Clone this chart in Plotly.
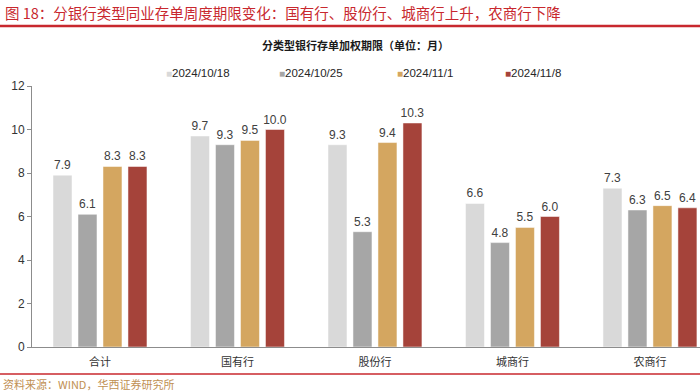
import plotly.graph_objects as go

categories = ["合计", "国有行", "股份行", "城商行", "农商行"]
series_names = ["2024/10/18", "2024/10/25", "2024/11/1", "2024/11/8"]
s_1018 = [7.9, 9.7, 9.3, 6.6, 7.3]
s_1025 = [6.1, 9.3, 5.3, 4.8, 6.3]
s_1101 = [8.3, 9.5, 9.4, 5.5, 6.5]
s_1108 = [8.3, 10.0, 10.3, 6.0, 6.4]
y_ticks = [0, 2, 4, 6, 8, 10, 12]

series_values = [s_1018, s_1025, s_1101, s_1108]
colors = ["#D9D9D9", "#A6A6A6", "#D4A660", "#A5433A"]

CJK = "Noto Sans CJK SC"
LAT = "Liberation Sans"

W, H = 700, 392
L, R, T, B = 32, 0, 86, 45
pw = W - L - R
ph = H - T - B


def px(x):
    return (x - L) / pw


def py(y):
    return (H - B - y) / ph


fig = go.Figure()
for name, vals, c in zip(series_names, series_values, colors):
    fig.add_trace(go.Bar(
        x=categories, y=vals, name=name,
        marker=dict(color=c, line=dict(color="white", width=0.5)),
        text=[f"{v:.1f}" for v in vals], textposition="outside",
        textfont=dict(family=LAT, size=12, color="#404040"),
        constraintext="none",
        cliponaxis=False, showlegend=False, hoverinfo="skip",
    ))

annotations = [
    dict(text="图 18：分银行类型同业存单周度期限变化：国有行、股份行、城商行上升，农商行下降",
         x=px(3), y=py(12), xref="paper", yref="paper", xanchor="left", yanchor="middle",
         showarrow=False, font=dict(family=CJK, size=14.5, color="#C8282E")),
    dict(text="<b>分类型银行存单加权期限（单位：月）</b>",
         x=px(355), y=py(45), xref="paper", yref="paper", xanchor="center", yanchor="middle",
         showarrow=False, font=dict(family=CJK, size=11, color="#1a1a1a")),
    dict(text="资料来源：WIND，华西证券研究所",
         x=px(1), y=py(384), xref="paper", yref="paper", xanchor="left", yanchor="middle",
         showarrow=False, font=dict(family=CJK, size=11, color="#BF9052")),
]
leg_x = [165, 278, 396, 504]
for name, c, lx in zip(series_names, colors, leg_x):
    annotations.append(dict(
        text=f"<span style='color:{c};font-size:10px'>■</span>{name}",
        x=px(lx - 1), y=py(73), xref="paper", yref="paper", xanchor="left", yanchor="middle",
        showarrow=False, font=dict(family=LAT, size=11.5, color="#262626")))

shapes = [
    dict(type="line", xref="paper", yref="paper", x0=px(0), x1=px(700), y0=py(26), y1=py(26),
         line=dict(color="#C8282E", width=2.5)),
    dict(type="line", xref="paper", yref="paper", x0=px(0), x1=px(700), y0=py(374), y1=py(374),
         line=dict(color="#C8282E", width=1.5)),
]

fig.update_layout(
    width=W, height=H,
    margin=dict(l=L, r=R, t=T, b=B, pad=0),
    paper_bgcolor="white", plot_bgcolor="white",
    barmode="group", bargap=0.273, bargroupgap=0.24,
    annotations=annotations, shapes=shapes,
    xaxis=dict(range=[-0.4945, 4.364], showline=True, linecolor="#8c8c8c", linewidth=1,
               ticks="", showgrid=False, zeroline=False,
               tickfont=dict(family=CJK, size=11, color="#333333"), ticklabelstandoff=5),
    yaxis=dict(range=[0, 12], tickvals=y_ticks, showline=True, linecolor="#8c8c8c", linewidth=1,
               ticks="outside", ticklen=4, tickcolor="#8c8c8c", showgrid=False, zeroline=False,
               tickfont=dict(family=LAT, size=12, color="#333333")),
)

fig.write_html("out.html", config={"displayModeBar": False},
               post_script="document.body.style.margin='0';document.body.style.overflow='hidden';")
